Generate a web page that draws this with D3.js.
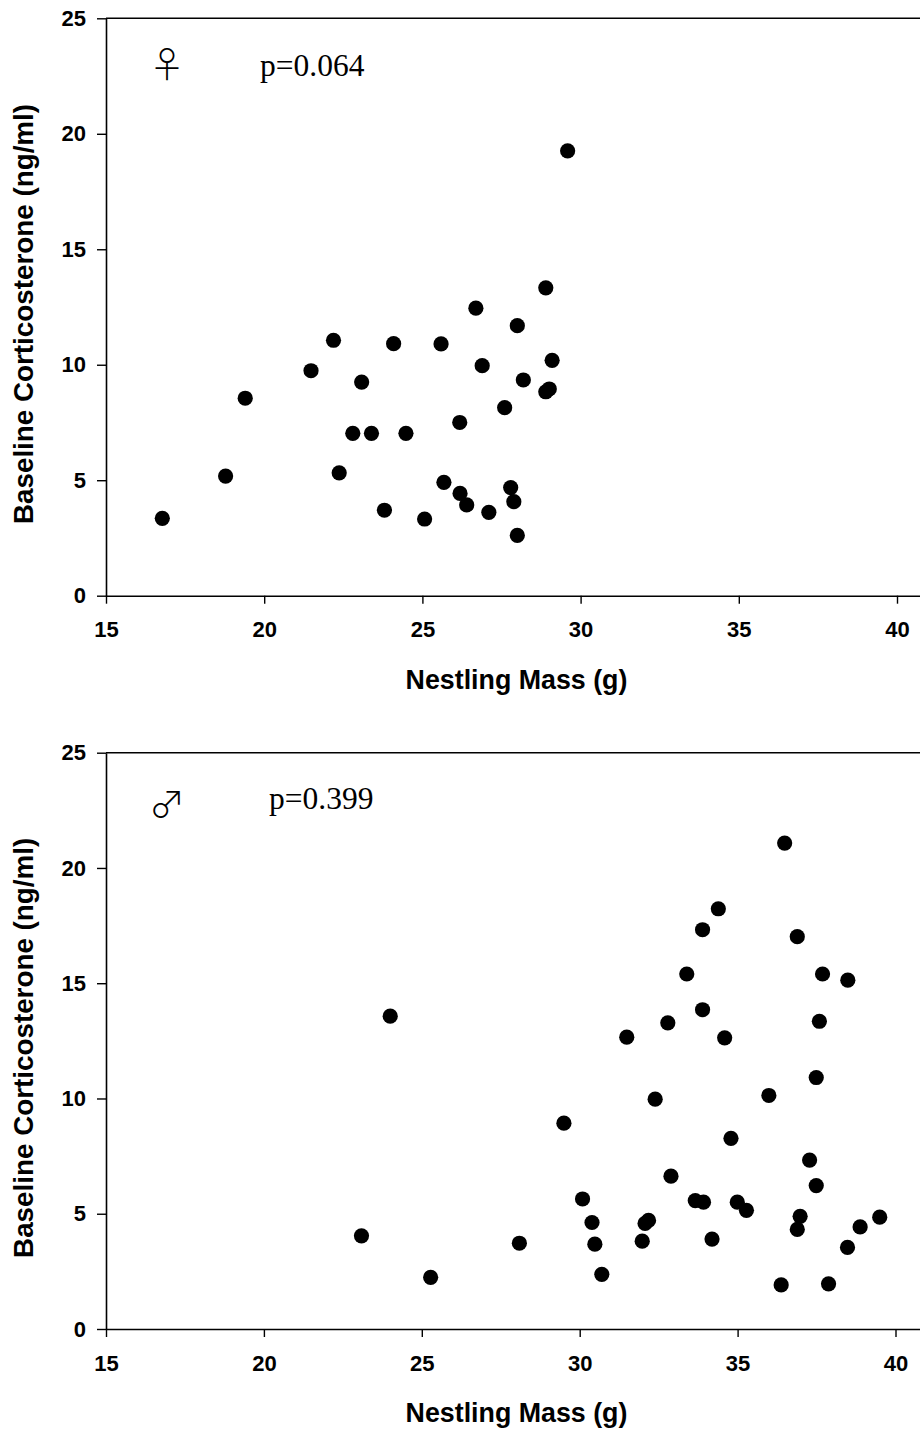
<!DOCTYPE html>
<html><head><meta charset="utf-8">
<script src="https://cdn.jsdelivr.net/npm/d3@7"></script>
<style>body{margin:0;background:#fff}svg{display:block}</style>
</head><body>
<script>
// Female nestlings: mass (g) and baseline corticosterone (ng/ml)
const femaleMass = [16.78,18.78,19.40,21.48,22.19,23.08,22.80,23.39,24.48,22.37,23.80,24.09,25.59,25.07,25.68,26.18,26.19,26.40,26.69,28.00,26.89,29.10,28.19,28.90,29.01,27.60,27.10,27.79,27.89,28.00,29.59,28.90];
const femaleCort = [3.35,5.18,8.55,9.74,11.06,9.25,7.03,7.03,7.03,5.32,3.70,10.91,10.90,3.32,4.91,7.50,4.43,3.93,12.45,11.69,9.96,10.19,9.34,8.83,8.95,8.14,3.61,4.68,4.07,2.61,19.26,13.33];
// Male nestlings
const maleMass = [24.0,23.09,25.28,36.49,34.39,33.89,36.89,33.39,37.69,38.49,33.89,32.79,37.59,31.49,34.59,37.49,35.99,32.39,29.50,34.79,37.28,32.89,37.49,30.09,33.66,33.92,34.99,35.28,36.98,39.50,30.39,32.18,32.07,36.89,38.88,28.09,30.48,31.98,34.19,38.48,30.70,36.38,37.88];
const maleCort = [13.57,4.04,2.24,21.08,18.23,17.32,17.02,15.40,15.40,15.13,13.85,13.28,13.35,12.66,12.63,10.91,10.13,9.97,8.93,8.27,7.33,6.63,6.22,5.64,5.57,5.50,5.50,5.15,4.89,4.85,4.62,4.71,4.58,4.32,4.43,3.72,3.68,3.81,3.90,3.54,2.37,1.91,1.96];
const xTicks = [15,20,25,30,35,40];
const yTicks = [0,5,10,15,20,25];
const panels = [
  {sym:"\u2640", p:"p=0.064", mass:femaleMass, cort:femaleCort},
  {sym:"\u2642", p:"p=0.399", mass:maleMass, cort:maleCort}
];
const xTitle = "Nestling Mass (g)";
const yTitle = "Baseline Corticosterone (ng/ml)";

const W = 920, H = 1431;
const svg = d3.select("body").append("svg").attr("width", W).attr("height", H);

const layouts = [
  {x0:106, x40:897, yTop:18.3, yBot:595.7, symX:167, symY:78, pX:260, pY:76},
  {x0:106, x40:895.5, yTop:752.7, yBot:1329, symX:167, symY:818, pX:269, pY:809}
];

panels.forEach((pn, i) => {
  const L = layouts[i];
  const unit = (L.x40 - L.x0) / 25;
  const x = d3.scaleLinear().domain([15, 41]).range([L.x0, L.x0 + 26*unit]);
  const y = d3.scaleLinear().domain([0, 25]).range([L.yBot, L.yTop]);
  const g = svg.append("g");

  // frame top line
  g.append("line").attr("x1", x(15)).attr("x2", x(41)).attr("y1", y(25)).attr("y2", y(25))
    .attr("stroke", "#000").attr("stroke-width", 1.6);

  const xa = g.append("g").attr("transform", `translate(0,${y(0)})`)
    .call(d3.axisBottom(x).tickValues(xTicks).tickSize(8).tickSizeOuter(0).tickPadding(18).tickFormat(d3.format("d")));
  const ya = g.append("g").attr("transform", `translate(${x(15)},0)`)
    .call(d3.axisLeft(y).tickValues(yTicks).tickSize(9).tickSizeOuter(0).tickPadding(11).tickFormat(d3.format("d")));
  [xa, ya].forEach(a => {
    a.selectAll("path").attr("stroke", "#000").attr("stroke-width", 1.6);
    a.selectAll("line").attr("stroke", "#000").attr("stroke-width", 1.4);
    a.selectAll("text").attr("fill", "#000")
      .style("font-family", "'Liberation Sans', Arial, sans-serif")
      .style("font-weight", "bold").style("font-size", "22px");
  });

  g.append("text").attr("x", 516.5).attr("y", y(0) + 93).attr("text-anchor", "middle")
    .style("font-family", "'Liberation Sans', Arial, sans-serif").style("font-weight", "bold")
    .style("font-size", "26.8px").text(xTitle);
  g.append("text").attr("transform", `translate(33,${(y(0)+y(25))/2 + 7}) rotate(-90)`)
    .attr("text-anchor", "middle")
    .style("font-family", "'Liberation Sans', Arial, sans-serif").style("font-weight", "bold")
    .style("font-size", "27.8px").text(yTitle);

  g.append("text").attr("x", L.symX).attr("y", L.symY).attr("text-anchor", "middle")
    .style("font-family", "'Noto Sans CJK JP', 'DejaVu Sans', serif").style("font-weight", "300").style("font-size", "36px")
    .text(pn.sym);
  g.append("text").attr("x", L.pX).attr("y", L.pY)
    .style("font-family", "'Liberation Serif', 'Times New Roman', serif").style("font-size", "31.5px")
    .text(pn.p);

  g.selectAll("circle").data(pn.mass.map((m, k) => [m, pn.cort[k]])).join("circle")
    .attr("cx", d => x(d[0])).attr("cy", d => y(d[1])).attr("r", 7.6).attr("fill", "#000");
});
</script>
</body></html>
